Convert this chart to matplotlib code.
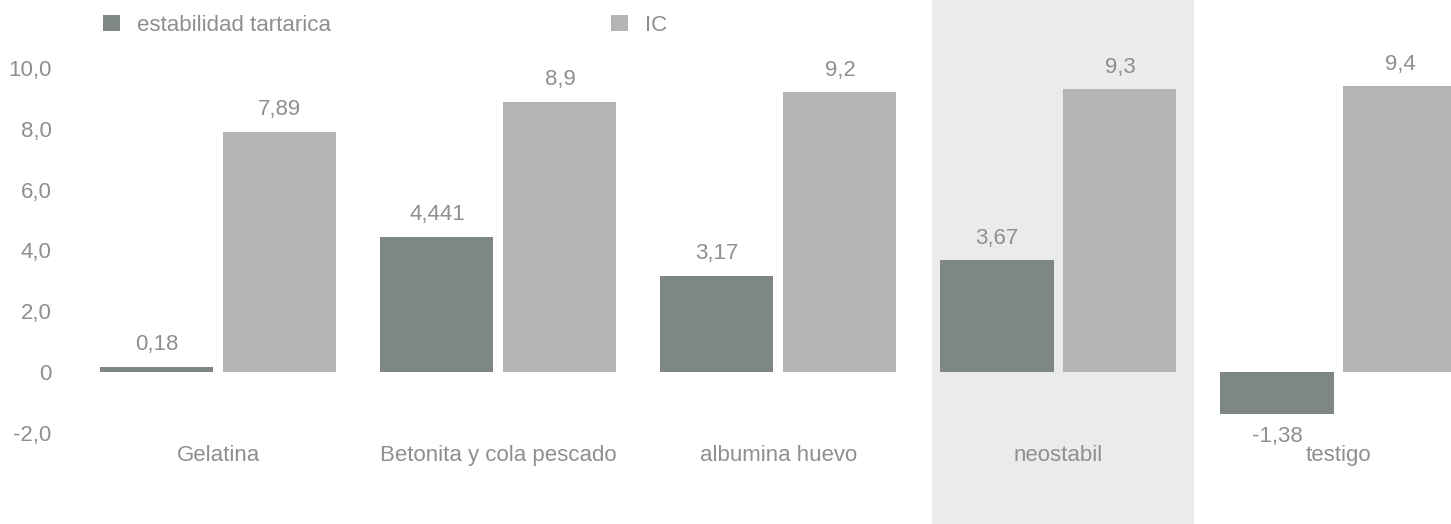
import matplotlib
matplotlib.use("Agg")
import matplotlib.pyplot as plt
from matplotlib.patches import Patch

# data
categories = ["Gelatina", "Betonita y cola pescado", "albumina huevo", "neostabil", "testigo"]
estabilidad = [0.18, 4.441, 3.17, 3.67, -1.38]
ic = [7.89, 8.9, 9.2, 9.3, 9.4]
estabilidad_labels = ["0,18", "4,441", "3,17", "3,67", "-1,38"]
ic_labels = ["7,89", "8,9", "9,2", "9,3", "9,4"]
yticks = [-2, 0, 2, 4, 6, 8, 10]
ytick_labels = ["-2,0", "0", "2,0", "4,0", "6,0", "8,0", "10,0"]
highlight = "neostabil"

DARK = "#7e8782"
LIGHT = "#b4b4b4"
BAND = "#ebebeb"
TEXT = "#8e8e93"
FS = 16

plt.rcParams['font.family'] = ['Liberation Sans', 'DejaVu Sans']

fig = plt.figure(figsize=(14.51, 5.24), dpi=100)
ax = fig.add_axes([0, 0, 1, 1])
ax.set_xlim(-0.780, 4.402)
ax.set_ylim(-5.0, 12.24)
for s in ax.spines.values():
    s.set_visible(False)

w = 0.404
off = 0.2196
x = list(range(len(categories)))

# shaded band behind the highlighted group
hi = categories.index(highlight)
ax.axvspan(hi - 0.452, hi + 0.484, color=BAND, zorder=0, lw=0)

ax.bar([i - off for i in x], estabilidad, w, color=DARK, zorder=2, lw=0)
ax.bar([i + off for i in x], ic, w, color=LIGHT, zorder=2, lw=0)

# value labels
for i in x:
    v = estabilidad[i]
    dy = 16 if v >= 0 else -16
    ax.annotate(estabilidad_labels[i], (i - off, v), xytext=(0, dy), textcoords="offset points",
                ha="center", va="center", fontsize=FS, color=TEXT)
    ax.annotate(ic_labels[i], (i + off, ic[i]), xytext=(0, 16), textcoords="offset points",
                ha="center", va="center", fontsize=FS, color=TEXT)

# category labels
for i in x:
    ax.text(i, -2.93, categories[i], ha="center", va="baseline", fontsize=FS, color=TEXT)

# y axis labels drawn inside the axes
ax.set_xticks([])
ax.set_yticks(yticks, ytick_labels)
ax.tick_params(axis="y", length=0, pad=-37.2, labelsize=FS, labelcolor=TEXT)

handles = [Patch(color=DARK, lw=0), Patch(color=LIGHT, lw=0)]
fig.legend(handles, ["estabilidad tartarica", "IC"], loc="center left",
           bbox_to_anchor=(103 / 1451, 1 - 25.5 / 524), ncol=2, frameon=False,
           fontsize=FS, labelcolor=TEXT, handlelength=0.76, handleheight=0.76,
           handletextpad=0.76, columnspacing=12.6, borderpad=0, borderaxespad=0)

fig.savefig("out.png", dpi=100)
